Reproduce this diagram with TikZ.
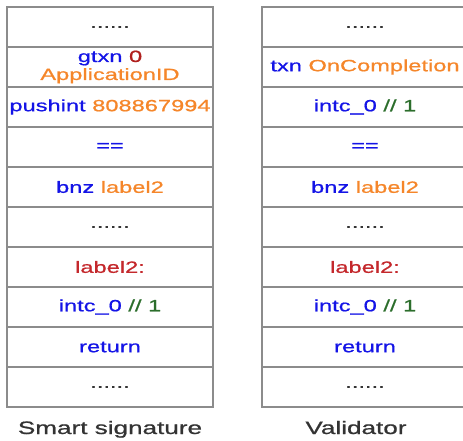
\documentclass[tikz,border=0pt]{standalone}
\usepackage{fontspec}
\newfontfamily\codefont{Liberation Sans}[FakeStretch=1.45, FakeBold=0.9]
\usetikzlibrary{positioning}
\definecolor{opblue}{HTML}{1414E6}
\definecolor{argorange}{HTML}{F5862A}
\definecolor{numred}{HTML}{B0201E}
\definecolor{lblred}{HTML}{C4282C}
\definecolor{cmtgreen}{HTML}{2C6E2C}
\definecolor{dotgray}{HTML}{333333}
\definecolor{gridgray}{HTML}{8C8C8C}
\newcommand{\opc}[1]{\textcolor{opblue}{#1}}
\newcommand{\argc}[1]{\textcolor{argorange}{#1}}
\newcommand{\gap}{\textcolor{dotgray}{......}}
\tikzset{
  cell/.style={draw=gridgray, line width=1.4pt, minimum width=206pt, minimum height=40pt,
               inner sep=0pt, outer sep=0pt, align=center,
               font=\codefont\fontsize{16.3}{19}\selectfont},
  caption/.style={text=dotgray, inner sep=0pt, anchor=base,
                  font=\codefont\fontsize{18}{20}\selectfont}
}
\begin{document}
\begin{tikzpicture}[x=1pt, y=1pt]
    \clip (0,0) rectangle (463,440);
    % smart signature
    \node[cell] (l1) at (110,413) {\gap};
    \node[cell, below=0pt of l1] (l2) {\opc{gtxn} \textcolor{numred}{0}\\[-1pt] \argc{ApplicationID}};
    \node[cell, below=0pt of l2] (l3) {\opc{pushint} \argc{808867994}};
    \node[cell, below=0pt of l3] (l4) {\opc{==}};
    \node[cell, below=0pt of l4] (l5) {\opc{bnz} \argc{label2}};
    \node[cell, below=0pt of l5] (l6) {\gap};
    \node[cell, below=0pt of l6] (l7) {\textcolor{lblred}{label2:}};
    \node[cell, below=0pt of l7] (l8) {\opc{intc\_0} \textcolor{cmtgreen}{// 1}};
    \node[cell, below=0pt of l8] (l9) {\opc{return}};
    \node[cell, below=0pt of l9] (l10) {\gap};
    % validator
    \node[cell] (r1) at (365,413) {\gap};
    \node[cell, below=0pt of r1] (r2) {\opc{txn} \argc{OnCompletion}};
    \node[cell, below=0pt of r2] (r3) {\opc{intc\_0} \textcolor{cmtgreen}{// 1}};
    \node[cell, below=0pt of r3] (r4) {\opc{==}};
    \node[cell, below=0pt of r4] (r5) {\opc{bnz} \argc{label2}};
    \node[cell, below=0pt of r5] (r6) {\gap};
    \node[cell, below=0pt of r6] (r7) {\textcolor{lblred}{label2:}};
    \node[cell, below=0pt of r7] (r8) {\opc{intc\_0} \textcolor{cmtgreen}{// 1}};
    \node[cell, below=0pt of r8] (r9) {\opc{return}};
    \node[cell, below=0pt of r9] (r10) {\gap};
    \node[caption] (lcap) at (110,6) {Smart signature};
    \node[caption] (rcap) at (356,6) {Validator};
\end{tikzpicture}
\end{document}
